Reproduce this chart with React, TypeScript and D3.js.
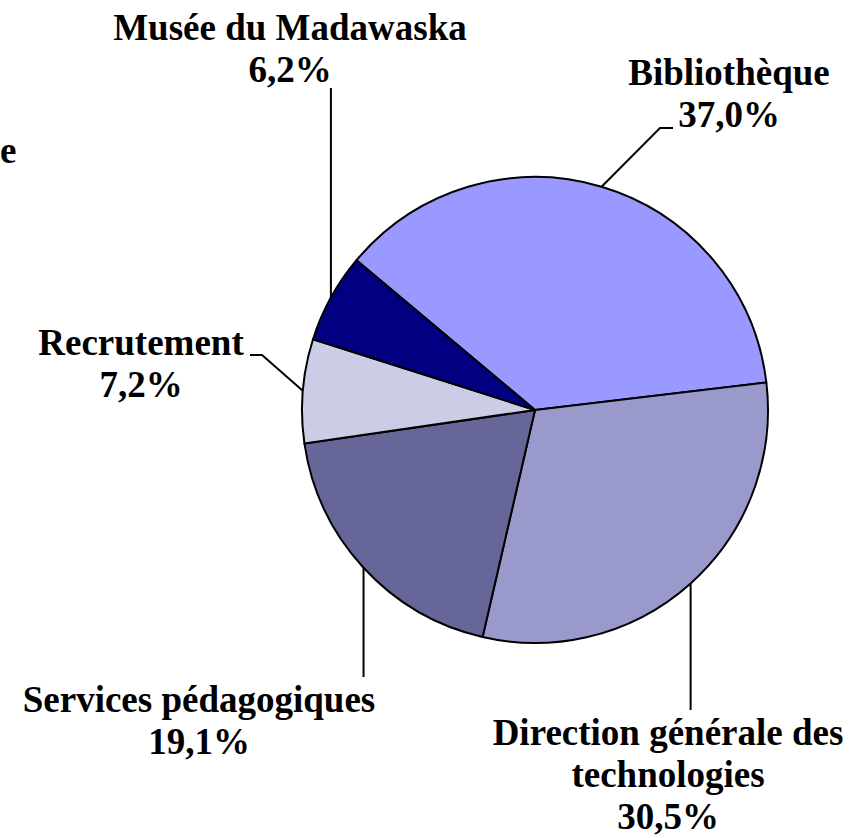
import React from "react";
import * as d3 from "d3";

// slice data, clockwise from the top-right
const categories = [
  "Bibliothèque",
  "Direction générale des technologies",
  "Services pédagogiques",
  "Recrutement",
  "Musée du Madawaska",
];
const values = [37.0, 30.5, 19.1, 7.2, 6.2];
const colors = ["#9999FF", "#9999CC", "#666699", "#CCCCE6", "#000080"];
const labelLines = [
  ["Bibliothèque"],
  ["Direction générale des", "technologies"],
  ["Services pédagogiques"],
  ["Recrutement"],
  ["Musée du Madawaska"],
];

const width = 865;
const height = 838;
const cx = 535;
const cy = 410;
const radius = 233;
const lineHeight = 42;
const font = "'Liberation Serif', 'Times New Roman', serif";

// label placement: centre x, first baseline, leader path after the edge point
const layout = [
  { x: 729, y: 85, leader: (p) => [p, [660, 128], [673, 128]] },
  { x: 668, y: 745, leader: (p) => [p, [p[0], 710]] },
  { x: 199, y: 712, leader: (p) => [p, [p[0], 677]] },
  { x: 141, y: 355, leader: (p) => [p, [262, 355], [250, 355]] },
  { x: 290, y: 40, leader: (p) => [p, [p[0], 88]] },
];

const fmt = (v: number) => v.toFixed(1).replace(".", ",") + "%";

export default function App() {
  const pie = d3
    .pie<number>()
    .sort(null)
    .startAngle((-50 * Math.PI) / 180)
    .endAngle((310 * Math.PI) / 180);
  const arcs = pie(values);
  const arc = d3.arc<d3.PieArcDatum<number>>().innerRadius(0).outerRadius(radius);
  const line = d3.line();

  return (
    <svg
      width={width}
      height={height}
      style={{ position: "absolute", left: 0, top: 0, background: "#fff" }}
    >
      <g transform={`translate(${cx},${cy})`}>
        {arcs.map((a, i) => (
          <path
            key={categories[i]}
            d={arc(a) || ""}
            fill={colors[i]}
            stroke="#000"
            strokeWidth={2}
            strokeLinejoin="round"
          />
        ))}
      </g>
      {arcs.map((a, i) => {
        const mid = (a.startAngle + a.endAngle) / 2;
        const p: [number, number] = [
          cx + radius * Math.sin(mid),
          cy - radius * Math.cos(mid),
        ];
        return (
          <path
            key={"l" + i}
            d={line(layout[i].leader(p) as [number, number][]) || ""}
            fill="none"
            stroke="#000"
            strokeWidth={2}
          />
        );
      })}
      {arcs.map((a, i) => {
        const rows = [...labelLines[i], fmt(values[i])];
        return (
          <text
            key={"t" + i}
            textAnchor="middle"
            fontFamily={font}
            fontWeight="bold"
            fontSize={37}
            fill="#000"
          >
            {rows.map((r, j) => (
              <tspan key={j} x={layout[i].x} y={layout[i].y + j * lineHeight}>
                {r}
              </tspan>
            ))}
          </text>
        );
      })}
      {/* remnant of a clipped label at the left edge */}
      <text x={0} y={163} fontFamily={font} fontWeight="bold" fontSize={37}>
        e
      </text>
    </svg>
  );
}
